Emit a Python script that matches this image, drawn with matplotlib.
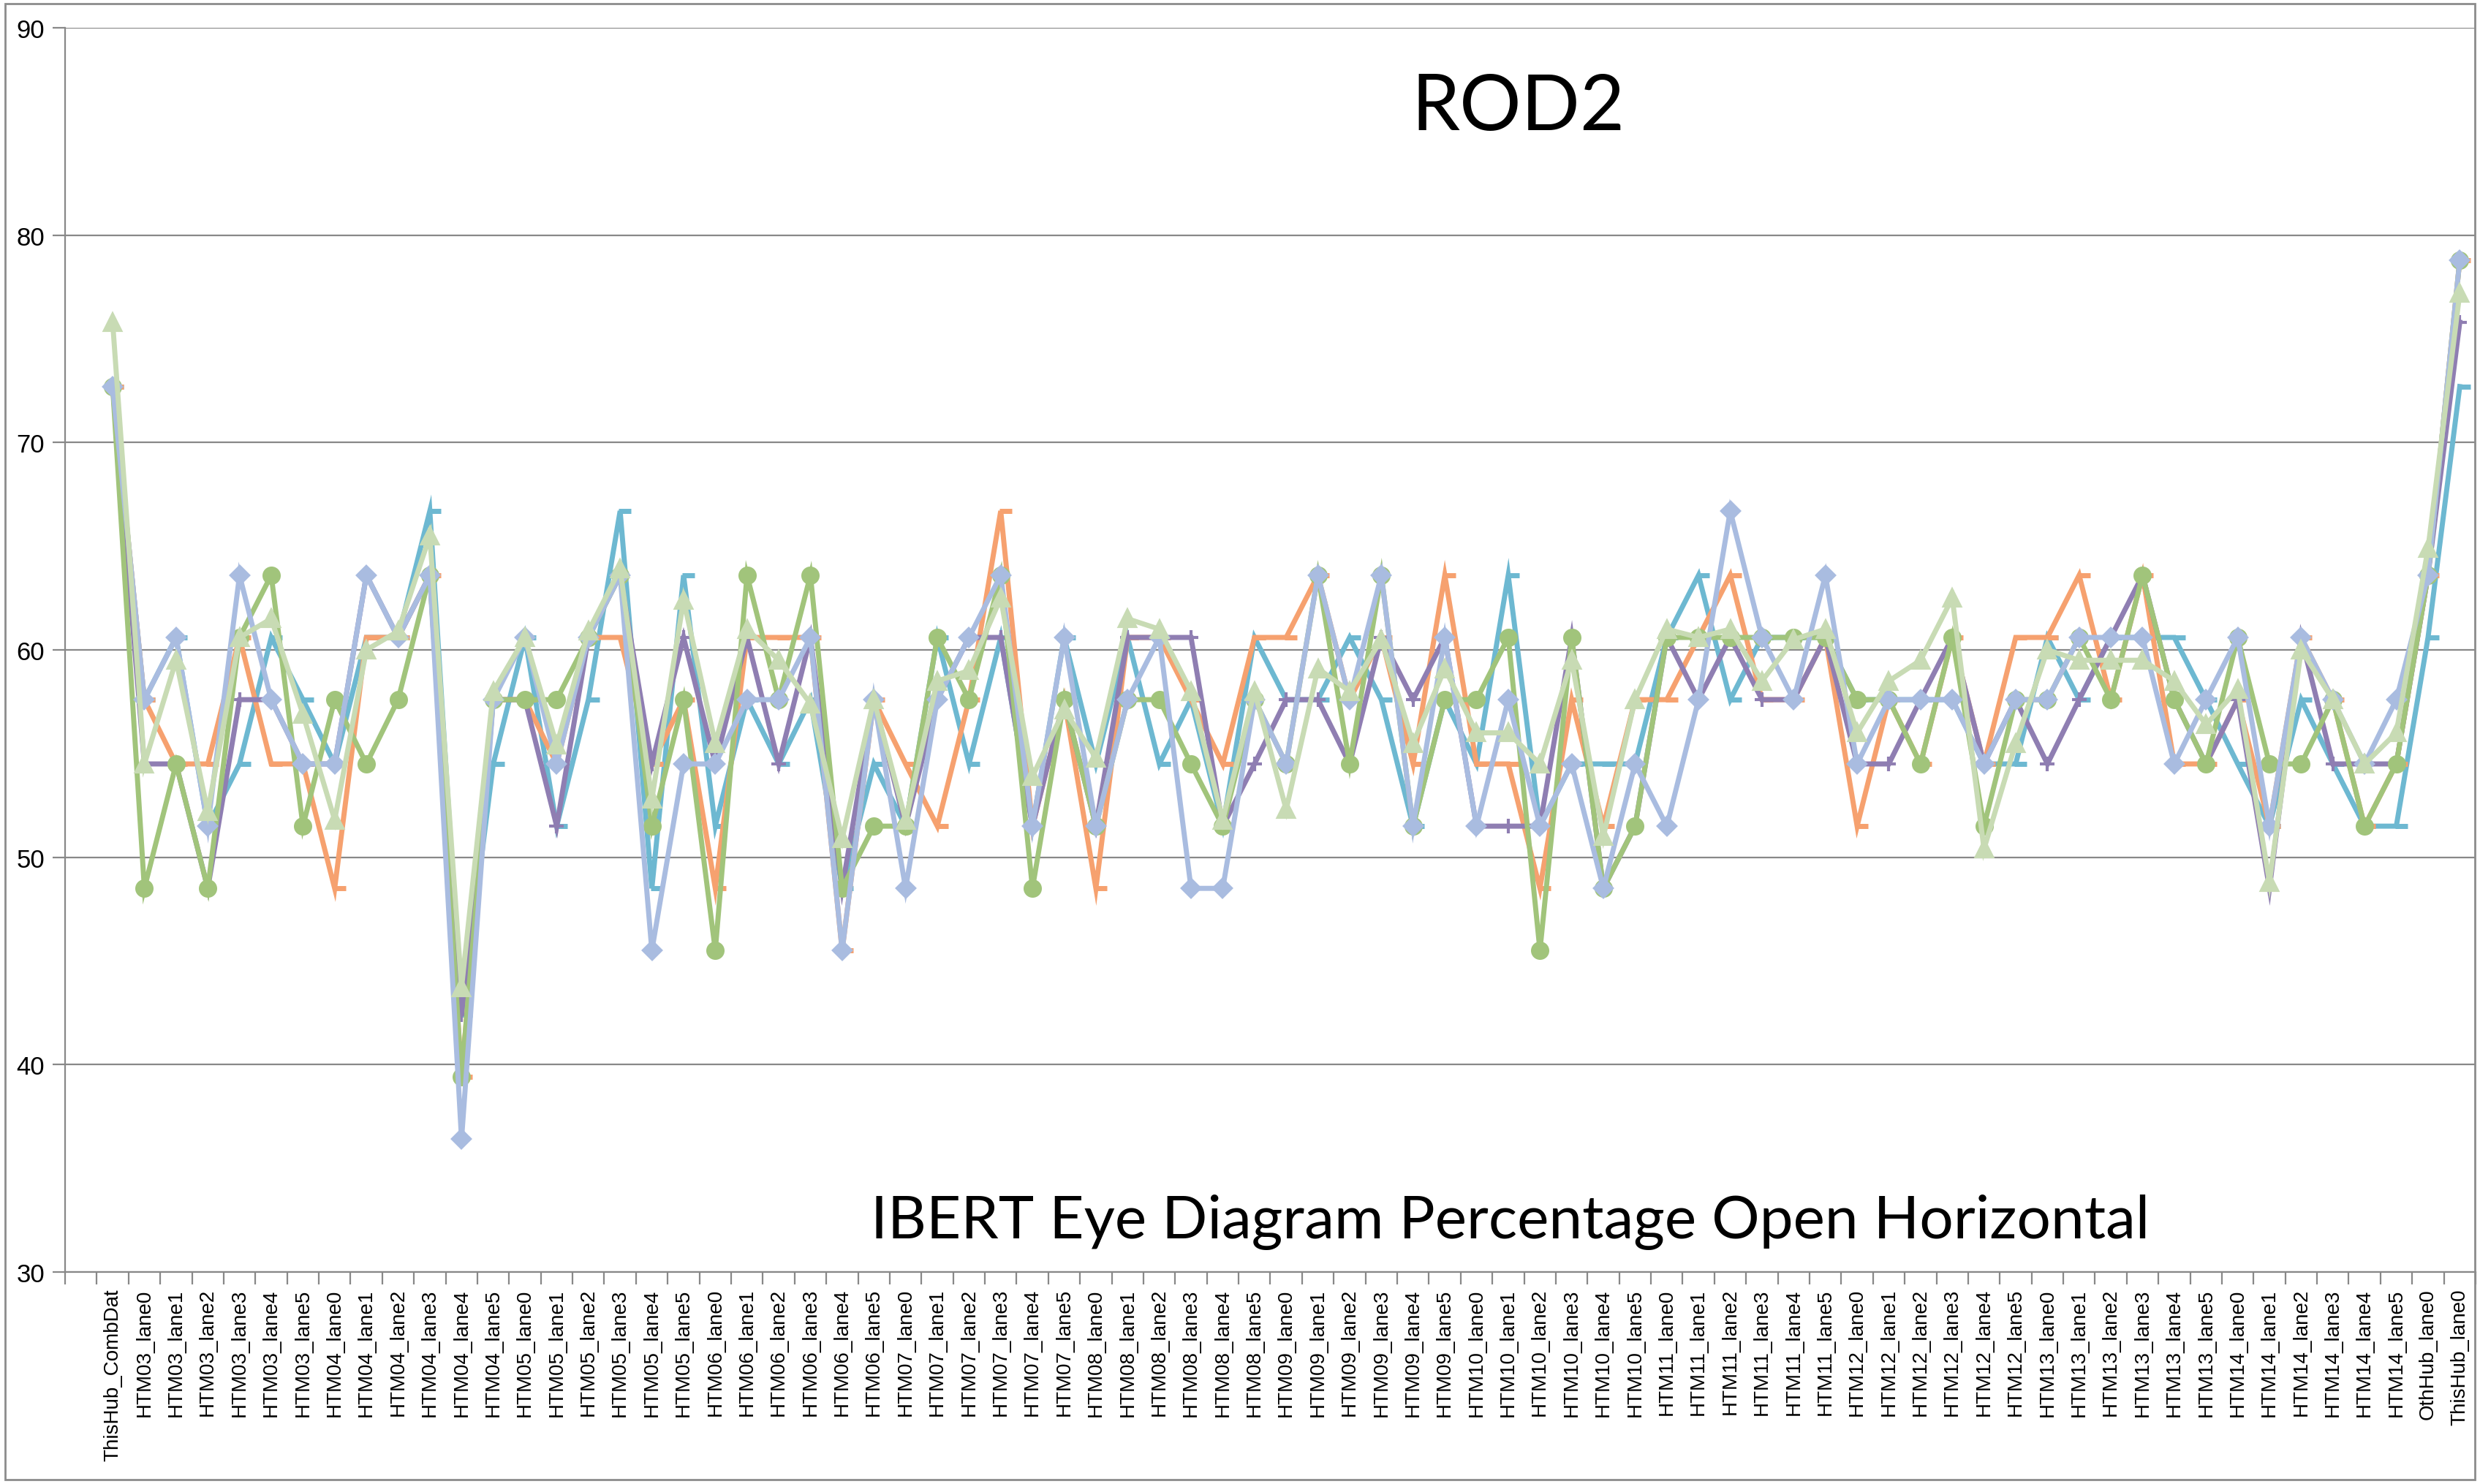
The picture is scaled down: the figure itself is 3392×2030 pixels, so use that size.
import numpy as np
import matplotlib
matplotlib.use("Agg")
import matplotlib.pyplot as plt
from matplotlib.path import Path
from matplotlib.patches import Rectangle

# category labels (first slot of the axis is empty in the original sheet)
categories = (["ThisHub_CombDat"]
              + [f"HTM{h:02d}_lane{l}" for h in range(3, 15) for l in range(6)]
              + ["OthHub_lane0", "ThisHub_lane0"])

teal = [72.7, 57.6, 60.6, 51.5, 54.5, 60.6, 57.6, 54.5, 60.6, 60.6,
        66.7, 42.4, 54.5, 60.6, 51.5, 57.6, 66.7, 48.5, 63.6, 51.5,
        57.6, 54.5, 57.6, 48.5, 54.5, 51.5, 60.6, 54.5, 60.6, 51.5,
        60.6, 54.5, 60.6, 54.5, 57.6, 51.5, 60.6, 57.6, 57.6, 60.6,
        57.6, 51.5, 57.6, 54.5, 63.6, 51.5, 54.5, 54.5, 54.5, 60.6,
        63.6, 57.6, 60.6, 60.6, 60.6, 57.6, 57.6, 57.6, 57.6, 54.5,
        54.5, 60.6, 57.6, 60.6, 60.6, 60.6, 57.6, 54.5, 51.5, 57.6,
        54.5, 51.5, 51.5, 60.6, 72.7]
orange = [72.7, 57.6, 54.5, 54.5, 60.6, 54.5, 54.5, 48.5, 60.6, 60.6,
          63.6, 39.4, 57.6, 57.6, 54.5, 60.6, 60.6, 54.5, 57.6, 48.5,
          60.6, 60.6, 60.6, 45.5, 57.6, 54.5, 51.5, 57.6, 66.7, 51.5,
          57.6, 48.5, 60.6, 60.6, 57.6, 54.5, 60.6, 60.6, 63.6, 57.6,
          60.6, 54.5, 63.6, 54.5, 54.5, 48.5, 57.6, 51.5, 57.6, 57.6,
          60.6, 63.6, 57.6, 57.6, 60.6, 51.5, 57.6, 54.5, 60.6, 54.5,
          60.6, 60.6, 63.6, 57.6, 63.6, 54.5, 54.5, 57.6, 51.5, 60.6,
          57.6, 51.5, 54.5, 63.6, 78.8]
purple = [72.7, 54.5, 54.5, 48.5, 57.6, 57.6, 54.5, 54.5, 63.6, 60.6,
          63.6, 42.4, 57.6, 57.6, 51.5, 60.6, 63.6, 54.5, 60.6, 54.5,
          60.6, 54.5, 60.6, 48.5, 57.6, 51.5, 57.6, 60.6, 60.6, 51.5,
          57.6, 51.5, 60.6, 60.6, 60.6, 51.5, 54.5, 57.6, 57.6, 54.5,
          60.6, 57.6, 60.6, 51.5, 51.5, 51.5, 60.6, 48.5, 51.5, 60.6,
          57.6, 60.6, 57.6, 57.6, 60.6, 54.5, 54.5, 57.6, 60.6, 54.5,
          57.6, 54.5, 57.6, 60.6, 63.6, 57.6, 54.5, 57.6, 48.5, 60.6,
          54.5, 54.5, 54.5, 63.6, 75.8]
green = [72.7, 48.5, 54.5, 48.5, 60.6, 63.6, 51.5, 57.6, 54.5, 57.6,
         63.6, 39.4, 57.6, 57.6, 57.6, 60.6, 63.6, 51.5, 57.6, 45.5,
         63.6, 57.6, 63.6, 48.5, 51.5, 51.5, 60.6, 57.6, 63.6, 48.5,
         57.6, 51.5, 57.6, 57.6, 54.5, 51.5, 57.6, 54.5, 63.6, 54.5,
         63.6, 51.5, 57.6, 57.6, 60.6, 45.5, 60.6, 48.5, 51.5, 60.6,
         60.6, 60.6, 60.6, 60.6, 60.6, 57.6, 57.6, 54.5, 60.6, 51.5,
         57.6, 57.6, 60.6, 57.6, 63.6, 57.6, 54.5, 60.6, 54.5, 54.5,
         57.6, 51.5, 54.5, 63.6, 78.8]
light_blue = [72.7, 57.6, 60.6, 51.5, 63.6, 57.6, 54.5, 54.5, 63.6, 60.6,
              63.6, 36.4, 57.6, 60.6, 54.5, 60.6, 63.6, 45.5, 54.5, 54.5,
              57.6, 57.6, 60.6, 45.5, 57.6, 48.5, 57.6, 60.6, 63.6, 51.5,
              60.6, 51.5, 57.6, 60.6, 48.5, 48.5, 57.6, 54.5, 63.6, 57.6,
              63.6, 51.5, 60.6, 51.5, 57.6, 51.5, 54.5, 48.5, 54.5, 51.5,
              57.6, 66.7, 60.6, 57.6, 63.6, 54.5, 57.6, 57.6, 57.6, 54.5,
              57.6, 57.6, 60.6, 60.6, 60.6, 54.5, 57.6, 60.6, 51.5, 60.6,
              57.6, 54.5, 57.6, 63.6, 78.8]
light_green = [75.8, 54.5, 59.5, 52.2, 60.6, 61.5, 56.9, 51.8, 60.0, 60.9,
               65.5, 43.7, 58.0, 60.6, 55.4, 60.9, 63.9, 52.8, 62.4, 55.5,
               61.0, 59.5, 57.4, 50.9, 57.6, 51.8, 58.5, 59.0, 62.5, 53.9,
               57.1, 54.8, 61.5, 61.0, 58.0, 51.8, 58.0, 52.3, 59.1, 58.0,
               60.5, 55.5, 59.1, 56.0, 56.0, 54.5, 59.5, 51.0, 57.6, 61.0,
               60.6, 61.0, 58.5, 60.5, 61.0, 56.0, 58.5, 59.5, 62.5, 50.4,
               55.5, 60.0, 59.5, 59.5, 59.5, 58.5, 56.4, 58.1, 48.8, 60.0,
               57.6, 54.5, 56.0, 64.9, 77.2]

# Excel style "dash" marker, drawn to the right of the point
dash = Path([(-0.15, 0.0), (1.0, 0.0)], [Path.MOVETO, Path.LINETO])

series = [
    (teal, "#6DB8D1", dash, 22),
    (orange, "#F6A16F", dash, 22),
    (purple, "#8F7EB2", "+", 15),
    (green, "#A1C47B", "o", 15),
    (light_blue, "#A9BCE0", "D", 12),
    (light_green, "#C8DBB4", "^", 16),
]

fig = plt.figure(figsize=(33.92, 20.31), dpi=100)
fig.patches.append(Rectangle((0.002, 0.003), 0.996, 0.994, transform=fig.transFigure,
                             fill=False, edgecolor="#8c8c8c", linewidth=2))
ax = fig.add_axes([89 / 3392, 1 - 1741 / 2031, (3386 - 89) / 3392, (1741 - 39) / 2031])

x = np.arange(len(categories)) + 1.5
for vals, col, mk, ms in series:
    mew = 5 if mk is dash else 3
    ax.plot(x, vals, color=col, lw=5, marker=mk, markersize=ms,
            markerfacecolor=col, markeredgecolor=col, markeredgewidth=mew,
            solid_joinstyle="miter")

ax.set_xlim(0, len(categories) + 1)
ax.set_ylim(30, 90)
ax.set_yticks(np.arange(30, 91, 10))
ax.yaxis.grid(True, color="#888888", lw=1.6)
ax.set_axisbelow(True)

ax.set_xticks(np.arange(0, len(categories) + 2), minor=False)
ax.set_xticklabels([])
ax.set_xticks(x, minor=True)
ax.set_xticklabels(categories, minor=True, rotation=90, fontsize=20,
                   family="Liberation Sans")
ax.tick_params(axis="x", which="major", length=12, width=1.6, color="#888888",
               direction="out")
ax.tick_params(axis="x", which="minor", length=0, pad=16)
ax.tick_params(axis="y", length=12, width=1.6, color="#888888", direction="out",
               labelsize=25, pad=8)
for lab in ax.get_yticklabels():
    lab.set_family("Liberation Sans")

for side in ["top", "right"]:
    ax.spines[side].set_visible(False)
for side in ["left", "bottom"]:
    ax.spines[side].set_color("#888888")
    ax.spines[side].set_linewidth(1.6)

fig.text(0.612, 0.927, "ROD2", ha="center", va="center", fontsize=76, family="Lato")
fig.text(0.609, 0.166, "IBERT Eye Diagram Percentage Open Horizontal",
         ha="center", va="baseline", fontsize=59, family="Lato")

fig.savefig("out.png", dpi=100, facecolor="white")
